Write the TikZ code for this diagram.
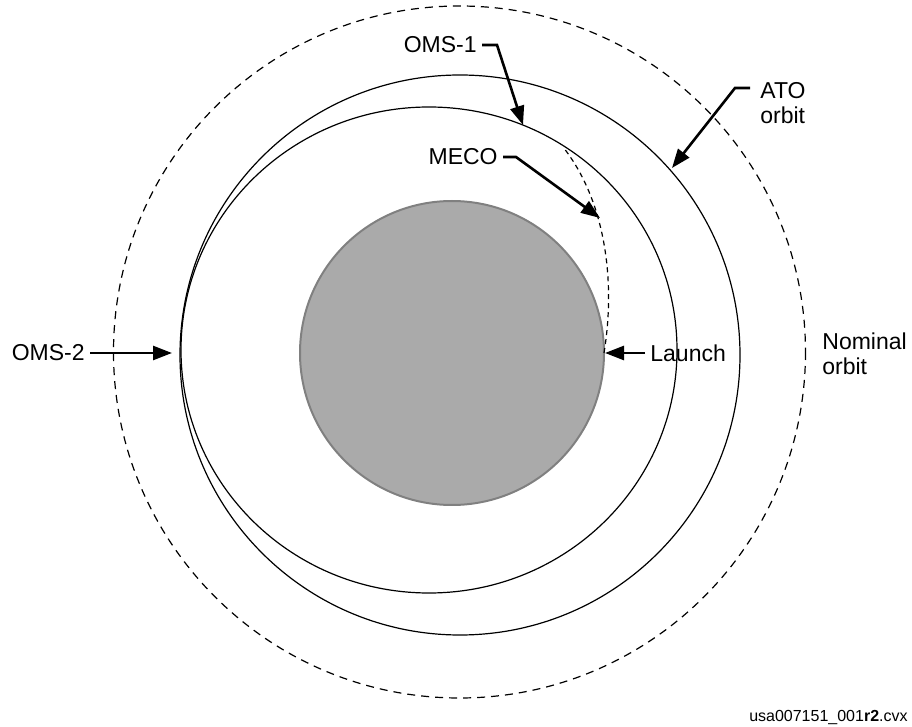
\documentclass[tikz,border=0pt]{standalone}
\usepackage{fontspec}
\setmainfont{Liberation Sans}
\usetikzlibrary{arrows.meta}
\definecolor{earthgray}{RGB}{170,170,170}
\definecolor{earthedge}{RGB}{128,128,128}

\begin{document}
\begin{tikzpicture}[x=0.5pt,y=-0.5pt]
          \tikzset{orbit/.style={line width=0.6pt},
            nominal/.style={line width=0.6pt,dash pattern=on 4pt off 3pt},
            ascent/.style={line width=0.6pt,dash pattern=on 2.5pt off 2pt},
            leader/.style={line width=1.3pt,-{Triangle[length=9.5pt,width=7pt]}},
            lbl/.style={font=\fontsize{11.5}{12.5}\selectfont,inner sep=2.5pt,align=left}}
          \useasboundingbox (0,0) rectangle (912,727);
          \fill[earthgray,draw=earthedge,line width=1pt] (452,353) circle [radius=152];
          \draw[nominal] (459.5,352) circle [radius=346];
          \draw[orbit] (460,355) circle [radius=280];
          \draw[orbit] (429,350) ellipse [x radius=248,y radius=243];
          \draw[ascent] (604,353) .. controls (616,280) and (605,200) .. (563,147);
          \coordinate (oms1tip) at (523,125);
          \coordinate (mecotip) at (600,218);
          \coordinate (atotip) at (672,168);
          \coordinate (oms2tip) at (172,353);
          \coordinate (launchtip) at (605,353);
          \node[lbl,anchor=east] (oms1) at (482,45) {OMS-1};
          \node[lbl,anchor=east] (meco) at (503,157) {MECO};
          \node[lbl,anchor=north west] (ato) at (755,77) {ATO\\orbit};
          \node[lbl,anchor=east] (oms2) at (90,353) {OMS-2};
          \node[lbl,anchor=west] (launch) at (645,353) {Launch};
          \node[lbl,anchor=north west] (nominal) at (817,327) {Nominal\\orbit};
          \node[font=\fontsize{8}{9}\selectfont,inner sep=0pt,anchor=base east] (tag) at (908,722) {usa007151\_001\textbf{r2}.cvx};
          \draw[leader] (oms1.east) -- ++(15,0) -- (oms1tip);
          \draw[leader] (meco.east) -- ++(13,0) -- (mecotip);
          \draw[leader] (ato.north west) ++(-5,11) -- ++(-15,0) -- (atotip);
          \draw[leader] (oms2.east) -- (oms2tip);
          \draw[leader] (launch.west) -- (launchtip);
        \end{tikzpicture}
\end{document}
